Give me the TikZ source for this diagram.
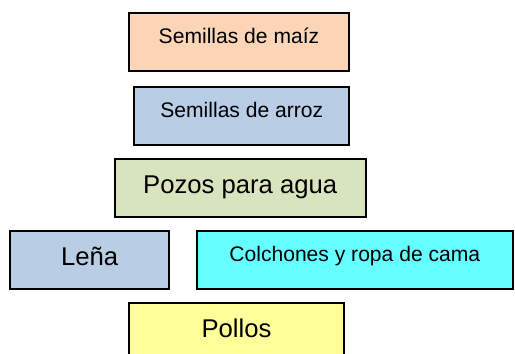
\documentclass[tikz,border=0pt]{standalone}
\usepackage{fontspec}
\setmainfont{Liberation Sans}

\definecolor{maiz}{HTML}{FBD5B5}
\definecolor{arroz}{HTML}{B9CDE5}
\definecolor{pozos}{HTML}{D7E4BD}
\definecolor{colchon}{HTML}{66FFFF}
\definecolor{pollos}{HTML}{FFFF99}

\tikzset{
    box/.style={draw, line width=1.1pt, inner xsep=0pt, inner ysep=0pt, outer sep=0pt},
    smallbox/.style={box, font=\fontsize{12}{14}\selectfont, text height=17.2pt, text depth=15.7pt},
    bigbox/.style={box, font=\fontsize{14.6}{17}\selectfont, text height=19.8pt, text depth=13.1pt}
}

\begin{document}
\begin{tikzpicture}[x=0.02cm, y=-0.02cm]
    \useasboundingbox (0,0) rectangle (515,354);

    % Nodes
    \node[smallbox, fill=maiz, minimum width=4.41cm] (maiz) at (239,42) {Semillas de maíz};
    \node[smallbox, fill=arroz, minimum width=4.30cm] (arroz) at (241.8,116) {Semillas de arroz};
    \node[bigbox, fill=pozos, minimum width=5.02cm] (pozos) at (240.2,188) {Pozos para agua};
    \node[bigbox, fill=arroz, minimum width=3.19cm] (lena) at (89.7,260) {Leña};
    \node[smallbox, fill=colchon, minimum width=6.33cm] (colchon) at (354.8,260) {Colchones y ropa de cama};
    \node[bigbox, fill=pollos, minimum width=4.29cm] (pollos) at (236.5,332) {Pollos};
\end{tikzpicture}
\end{document}
